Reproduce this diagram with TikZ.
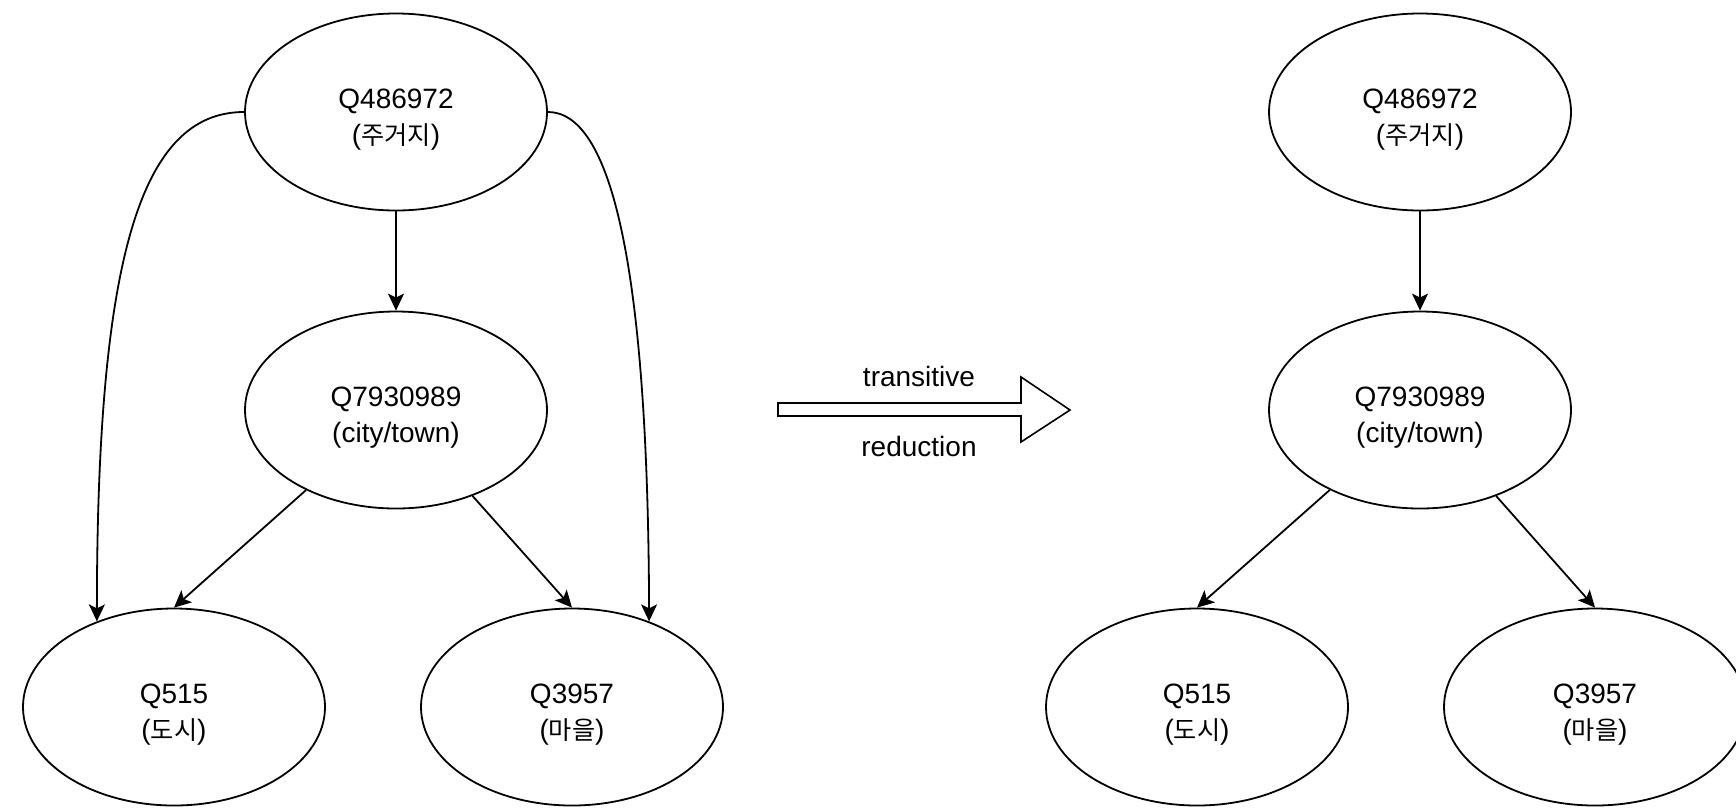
\documentclass[tikz,border=0pt]{standalone}
\usepackage{fontspec}
\setmainfont{Liberation Sans}
\newfontfamily\krfont[Scale=0.9]{Noto Sans CJK KR}
\usetikzlibrary{shapes.geometric,arrows.meta}

\begin{document}
\begin{tikzpicture}[x=1pt,y=-1pt,
  nodetext/.style={font=\fontsize{28}{36}\selectfont, align=center,
    inner sep=0pt, yshift=-8pt},
  entity/.style={ellipse, draw, line width=1.8pt, minimum width=302pt,
    minimum height=197pt, inner sep=0pt,
    label={[nodetext]center:#1}},
  link/.style={line width=1.8pt, -{Stealth[length=17pt,width=16pt,inset=4pt]}},
  caption/.style={font=\fontsize{28}{34}\selectfont, inner sep=0pt}]
\useasboundingbox (0,0) rectangle (1736,807);

% Full hierarchy (left)
\node[entity={Q486972\\({\krfont 주거지})}] (a1) at (396,112) {};
\node[entity={Q7930989\\(city/town)}] (b1) at (396,410) {};
\node[entity={Q515\\({\krfont 도시})}] (c1) at (174,707) {};
\node[entity={Q3957\\({\krfont 마을})}] (d1) at (572,707) {};

\draw[link] (a1) -- (b1);
\draw[link] (b1) -- (c1.north);
\draw[link] (b1) -- (d1.north);
\draw[link] (a1.west) .. controls (140,112) and (97,260) .. (c1.132);
\draw[link] (a1.east) .. controls (610,112) and (648,260) .. (d1.48);

% Hollow block arrow with its captions
\draw[line width=1.6pt, line join=miter] (778,403) -- (1021,403) -- (1021,377)
  -- (1070,410) -- (1021,442) -- (1021,416) -- (778,416) -- cycle;
\node[caption] (t1) at (919,376) {transitive};
\node[caption] (t2) at (919,446) {reduction};

% Reduced hierarchy (right)
\node[entity={Q486972\\({\krfont 주거지})}] (a2) at (1420,112) {};
\node[entity={Q7930989\\(city/town)}] (b2) at (1420,410) {};
\node[entity={Q515\\({\krfont 도시})}] (c2) at (1197,707) {};
\node[entity={Q3957\\({\krfont 마을})}] (d2) at (1595,707) {};

\draw[link] (a2) -- (b2);
\draw[link] (b2) -- (c2.north);
\draw[link] (b2) -- (d2.north);
\end{tikzpicture}
\end{document}
